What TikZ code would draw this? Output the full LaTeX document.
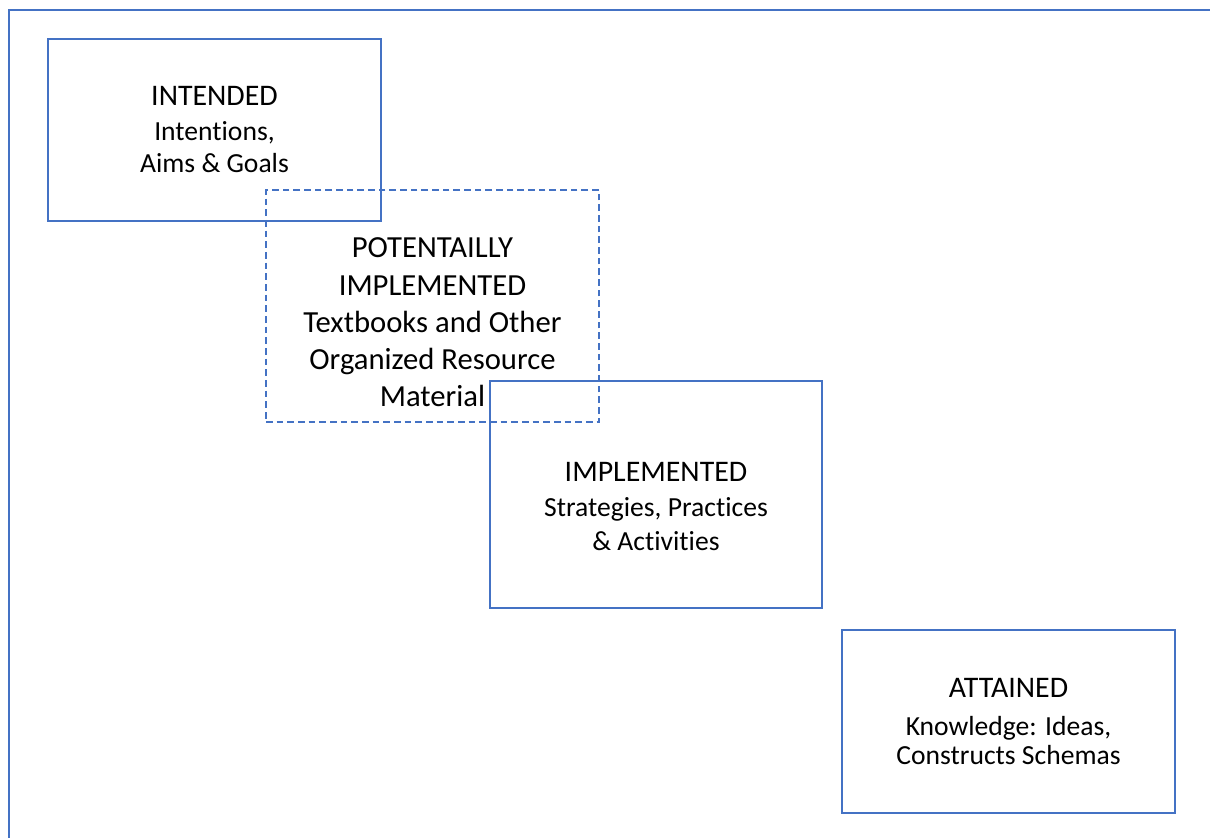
\documentclass[tikz,border=0pt]{standalone}
\usepackage{fontspec}
\setmainfont{Carlito}[Ligatures=CommonOff]
\definecolor{frameblue}{HTML}{4472C4}
\begin{document}
\begin{tikzpicture}[x=0.75pt,y=-0.75pt,
  boxline/.style={draw=frameblue,line width=1pt,inner sep=0pt,rectangle},
  dashbox/.style={boxline,dash pattern=on 5pt off 3pt},
  ttl/.style={anchor=base,font=\fontsize{22.4}{26}\selectfont,inner sep=0pt},
  big/.style={anchor=base,font=\fontsize{23}{27}\selectfont,inner sep=0pt},
  sub/.style={anchor=base,font=\fontsize{20.7}{24}\selectfont,inner sep=0pt}]
\useasboundingbox (0,0) rectangle (1210,838);
% outer frame
\coordinate (fa) at (9,838);
\coordinate (fb) at (9,10);
\coordinate (fc) at (1210,10);
\draw[draw=frameblue,line width=1.6pt] (fa) -- (fb) -- (fc);
% boxes
\node[boxline,minimum width=249.75pt,minimum height=136.5pt] (intended) at (214.5,130) {};
\node[dashbox,minimum width=249.75pt,minimum height=174pt] (potential) at (432.5,306) {};
\node[boxline,minimum width=249pt,minimum height=170.25pt] (implemented) at (656,494.5) {};
\node[boxline,minimum width=249.75pt,minimum height=137.25pt] (attained) at (1008.5,721.5) {};
% texts: intended
\node[ttl] (t1a) at (214.5,106) {INTENDED};
\node[sub] (t1b) at (214.5,141) {Intentions,};
\node[sub] (t1c) at (214.5,173) {Aims \& Goals};
% potentially implemented
\node[big] (t2a) at (432.5,257) {POTENTAILLY};
\node[big] (t2b) at (432.5,295) {IMPLEMENTED};
\node[big] (t2c) at (432.5,332) {Textbooks and Other};
\node[big] (t2d) at (432.5,369) {Organized Resource};
\node[big] (t2e) at (432.5,406) {Material};
% implemented
\node[ttl] (t3a) at (656,481) {IMPLEMENTED};
\node[sub] (t3b) at (656,516) {Strategies, Practices};
\node[sub] (t3c) at (656,550) {\& Activities};
% attained
\node[ttl] (t4a) at (1008.5,697) {ATTAINED};
\node[sub] (t4b) at (1008.5,735) {Knowledge: Ideas,};
\node[sub] (t4c) at (1008.5,764) {Constructs Schemas};
\end{tikzpicture}
\end{document}
